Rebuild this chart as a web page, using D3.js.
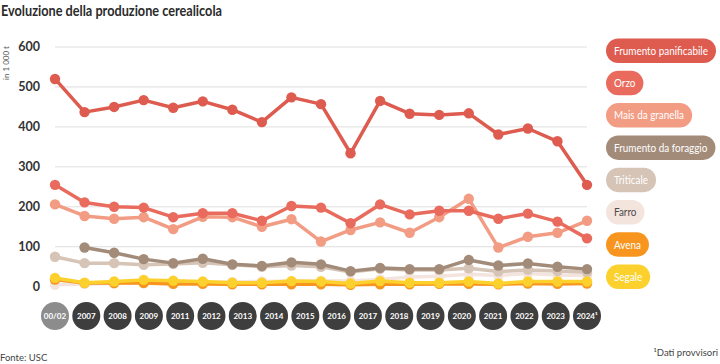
<!DOCTYPE html>
<html><head><meta charset="utf-8">
<script src="https://cdn.jsdelivr.net/npm/d3@7"></script>
<style>body{margin:0;background:#fff} svg{display:block}</style></head>
<body>
<svg id="c" width="720" height="364"></svg>
<script>
// ---- data ----
const years = ["00/02","2007","2008","2009","2010","2011","2012","2013","2014","2015","2016","2017","2018","2019","2020","2021","2022","2023","2024"];
const axisLabels = ["00/02","2007","2008","2009","2011","2012","2013","2014","2015","2016","2017","2018","2019","2020","2021","2022","2023","2024¹"];
const yTicks = [0,100,200,300,400,500,600];

const frumentoPanificabile = [520,437,450,467,448,464,443,412,474,457,334,465,433,430,434,381,396,364,255];
const orzo                 = [255,211,200,198,174,184,184,165,202,198,159,206,181,190,190,170,183,163,121];
const mais                 = [206,177,170,174,144,175,174,150,169,113,142,161,135,174,220,98,125,135,165];
const frumentoForaggio     = [null,98,85,69,59,70,56,52,61,56,39,47,44,44,67,53,58,50,44];
const triticale            = [75,59,59,55,57,60,55,50,53,50,37,45,42,42,46,38,42,39,36];
const farro                = [5,7,8,10,11,12,12,13,14,15,14,18,24,26,31,28,33,29,28];
const avena                = [18,9,9,9,7,7,6,6,6,6,5,6,6,7,7,6,8,7,8];
const segale               = [22,10,13,17,15,13,10,10,14,13,8,14,10,10,13,8,13,13,13];

const seriesNames  = ["Frumento panificabile","Orzo","Mais da granella","Frumento da foraggio","Triticale","Farro","Avena","Segale"];
const seriesValues = [frumentoPanificabile, orzo, mais, frumentoForaggio, triticale, farro, avena, segale];
const seriesColors = ["#de5b50","#e96b5d","#f29c84","#a38b79","#d6c4b6","#f4e4de","#f7951e","#fdd12d"];
const legendText   = ["#fff","#fff","#fff","#fff","#fff","#4a4a4a","#fff","#fff"];
const drawOrder    = [5,4,3,6,7,2,1,0];

// ---- chart ----
const svg = d3.select("#c");
const FONT = "Lato, 'Open Sans', sans-serif";

const x = d3.scalePoint().domain(years).range([55, 587]);
const xl = d3.scalePoint().domain(axisLabels).range([55, 587]);
const y = d3.scaleLinear().domain([0, 600]).range([286.7, 47]);

// title
svg.append("text").attr("x", 1).attr("y", 16)
  .attr("font-family", FONT).attr("font-weight", 700).attr("font-size", 15)
  .attr("fill", "#2b2b2b").attr("textLength", 221).attr("lengthAdjust", "spacingAndGlyphs")
  .text("Evoluzione della produzione cerealicola");

// unit label
svg.append("text").attr("transform", "translate(9,63) rotate(-90)")
  .attr("text-anchor", "middle").attr("font-family", FONT).attr("font-size", 8)
  .attr("fill", "#555").text("in 1 000 t");

// grid + y labels
const gy = svg.append("g");
gy.selectAll("line").data(yTicks.filter(d => d > 0)).join("line")
  .attr("x1", 55).attr("x2", 587).attr("y1", d => y(d)).attr("y2", d => y(d))
  .attr("stroke", "#dedede").attr("stroke-width", 1);
gy.selectAll("text").data(yTicks).join("text")
  .attr("x", 40).attr("y", d => y(d)).attr("dy", "0.35em").attr("text-anchor", "end")
  .attr("font-family", FONT).attr("font-weight", 700).attr("font-size", 12.5)
  .attr("fill", "#333").text(d => d);

// lines
const line = d3.line().defined(d => d != null).x((d, i) => x(years[i])).y(d => y(d));
const lg = svg.append("g");
drawOrder.forEach(k => {
  const vals = seriesValues[k];
  const g = lg.append("g");
  g.append("path").datum(vals).attr("d", line)
    .attr("fill", "none").attr("stroke", seriesColors[k]).attr("stroke-width", 3.5)
    .attr("stroke-linejoin", "round").attr("stroke-linecap", "round");
  g.selectAll("circle").data(vals.map((v, i) => ({v, i})).filter(d => d.v != null)).join("circle")
    .attr("cx", d => x(years[d.i])).attr("cy", d => y(d.v)).attr("r", 5.2)
    .attr("fill", seriesColors[k]);
});

// x-axis bubbles
const bx = svg.append("g");
axisLabels.forEach((lab, i) => {
  bx.append("circle").attr("cx", xl(lab)).attr("cy", 316).attr("r", 14)
    .attr("fill", i === 0 ? "#8c8c8c" : "#3e3e3e");
  bx.append("text").attr("x", xl(lab)).attr("y", 316).attr("dy", "0.35em")
    .attr("text-anchor", "middle").attr("font-family", FONT).attr("font-weight", 700)
    .attr("font-size", 8).attr("fill", "#fff").text(lab);
});

// legend
const leg = svg.append("g");
let factor = null;
seriesNames.forEach((name, i) => {
  const g = leg.append("g").attr("transform", `translate(606,${38.5 + i * 32.3})`);
  const rect = g.append("rect");
  const tg = g.append("g");
  const t = tg.append("text").attr("x", 0).attr("y", 12.3).attr("dy", "0.35em")
    .attr("font-family", FONT).attr("font-size", 11.5).attr("fill", legendText[i]).text(name);
  const raw = t.node().getComputedTextLength();
  if (factor === null) factor = Math.min(1, 94 / raw);
  tg.attr("transform", `translate(8,0) scale(${factor},1)`);
  const w = raw * factor;
  rect.attr("x", 0).attr("y", 0).attr("width", w + 16).attr("height", 24.5)
    .attr("rx", 12.25).attr("fill", seriesColors[i]);
});

// footer
svg.append("text").attr("x", 0).attr("y", 361).attr("font-family", FONT).attr("font-size", 9.5)
  .attr("fill", "#444").text("Fonte: USC");
svg.append("text").attr("x", 718).attr("y", 356).attr("text-anchor", "end").attr("font-family", FONT)
  .attr("font-size", 9.5).attr("fill", "#444").text("¹Dati provvisori");
</script>
</body></html>
